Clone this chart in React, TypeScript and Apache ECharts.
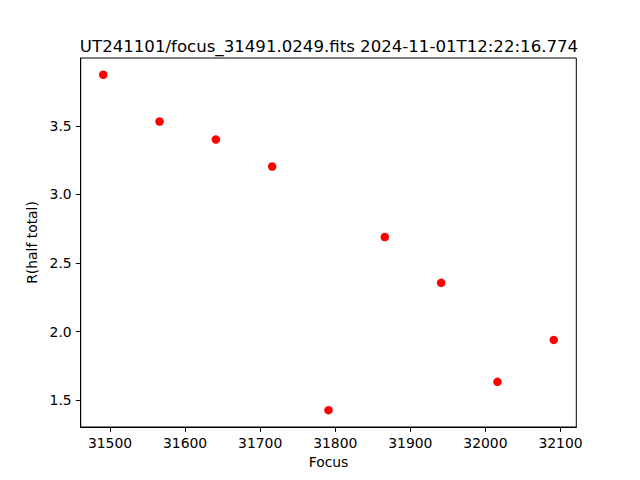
import React, { useEffect, useRef } from "react";
import * as echarts from "echarts";

const titleText = "UT241101/focus_31491.0249.fits 2024-11-01T12:22:16.774";
const focusValues = [31491, 31566, 31641, 31716, 31791, 31866, 31941, 32016, 32091];
const radiusValues = [3.873, 3.532, 3.401, 3.204, 1.428, 2.690, 2.356, 1.634, 1.940];
const xTicks = [31500, 31600, 31700, 31800, 31900, 32000, 32100];
const yTicks = [1.5, 2.0, 2.5, 3.0, 3.5];

const FONT = "DejaVu Sans";

export default function App() {
  const ref = useRef<HTMLDivElement>(null);
  useEffect(() => {
    if (!ref.current) return;
    const chart = echarts.init(ref.current, undefined, { renderer: "svg" });
    const data = focusValues.map((f, i) => [f, radiusValues[i]]);
    chart.setOption({
      animation: false,
      backgroundColor: "#ffffff",
      textStyle: { fontFamily: FONT },
      title: {
        text: titleText,
        left: 324,
        top: 33,
        textAlign: "center",
        textStyle: { fontFamily: FONT, fontSize: 16.6, fontWeight: "normal", color: "#000" },
      },
      grid: {
        left: 80.7,
        top: 58,
        width: 495.6,
        height: 369,
        show: true,
        borderColor: "#000",
        borderWidth: 1,
        backgroundColor: "transparent",
        containLabel: false,
      },
      xAxis: {
        type: "value",
        min: 31461,
        max: 32121,
        name: "Focus",
        nameLocation: "middle",
        nameGap: 28,
        nameTextStyle: { fontFamily: FONT, fontSize: 13.9, color: "#000" },
        axisLine: { show: true, onZero: false, lineStyle: { color: "#000", width: 1 } },
        axisTick: { show: true, length: 4.9, customValues: xTicks, lineStyle: { color: "#000", width: 1 } },
        axisLabel: {
          show: true,
          margin: 9,
          customValues: xTicks,
          fontFamily: FONT,
          fontSize: 13.9,
          color: "#000",
          formatter: (v: number) => String(Math.round(v)),
        },
        splitLine: { show: false },
      },
      yAxis: {
        type: "value",
        min: 1.305,
        max: 3.995,
        name: "R(half total)",
        nameLocation: "middle",
        nameGap: 38,
        nameTextStyle: { fontFamily: FONT, fontSize: 13.9, color: "#000" },
        axisLine: { show: true, onZero: false, lineStyle: { color: "#000", width: 1 } },
        axisTick: { show: true, length: 4.9, customValues: yTicks, lineStyle: { color: "#000", width: 1 } },
        axisLabel: {
          show: true,
          margin: 9,
          customValues: yTicks,
          fontFamily: FONT,
          fontSize: 13.9,
          color: "#000",
          formatter: (v: number) => v.toFixed(1),
        },
        splitLine: { show: false },
      },
      series: [
        {
          type: "scatter",
          data,
          symbol: "circle",
          symbolSize: 8.5,
          itemStyle: { color: "#ff0000", opacity: 1 },
          emphasis: { disabled: true },
        },
      ],
    });
    return () => chart.dispose();
  }, []);
  return (
    <div
      ref={ref}
      style={{ position: "absolute", left: 0, top: 0, width: 640, height: 480 }}
    />
  );
}
